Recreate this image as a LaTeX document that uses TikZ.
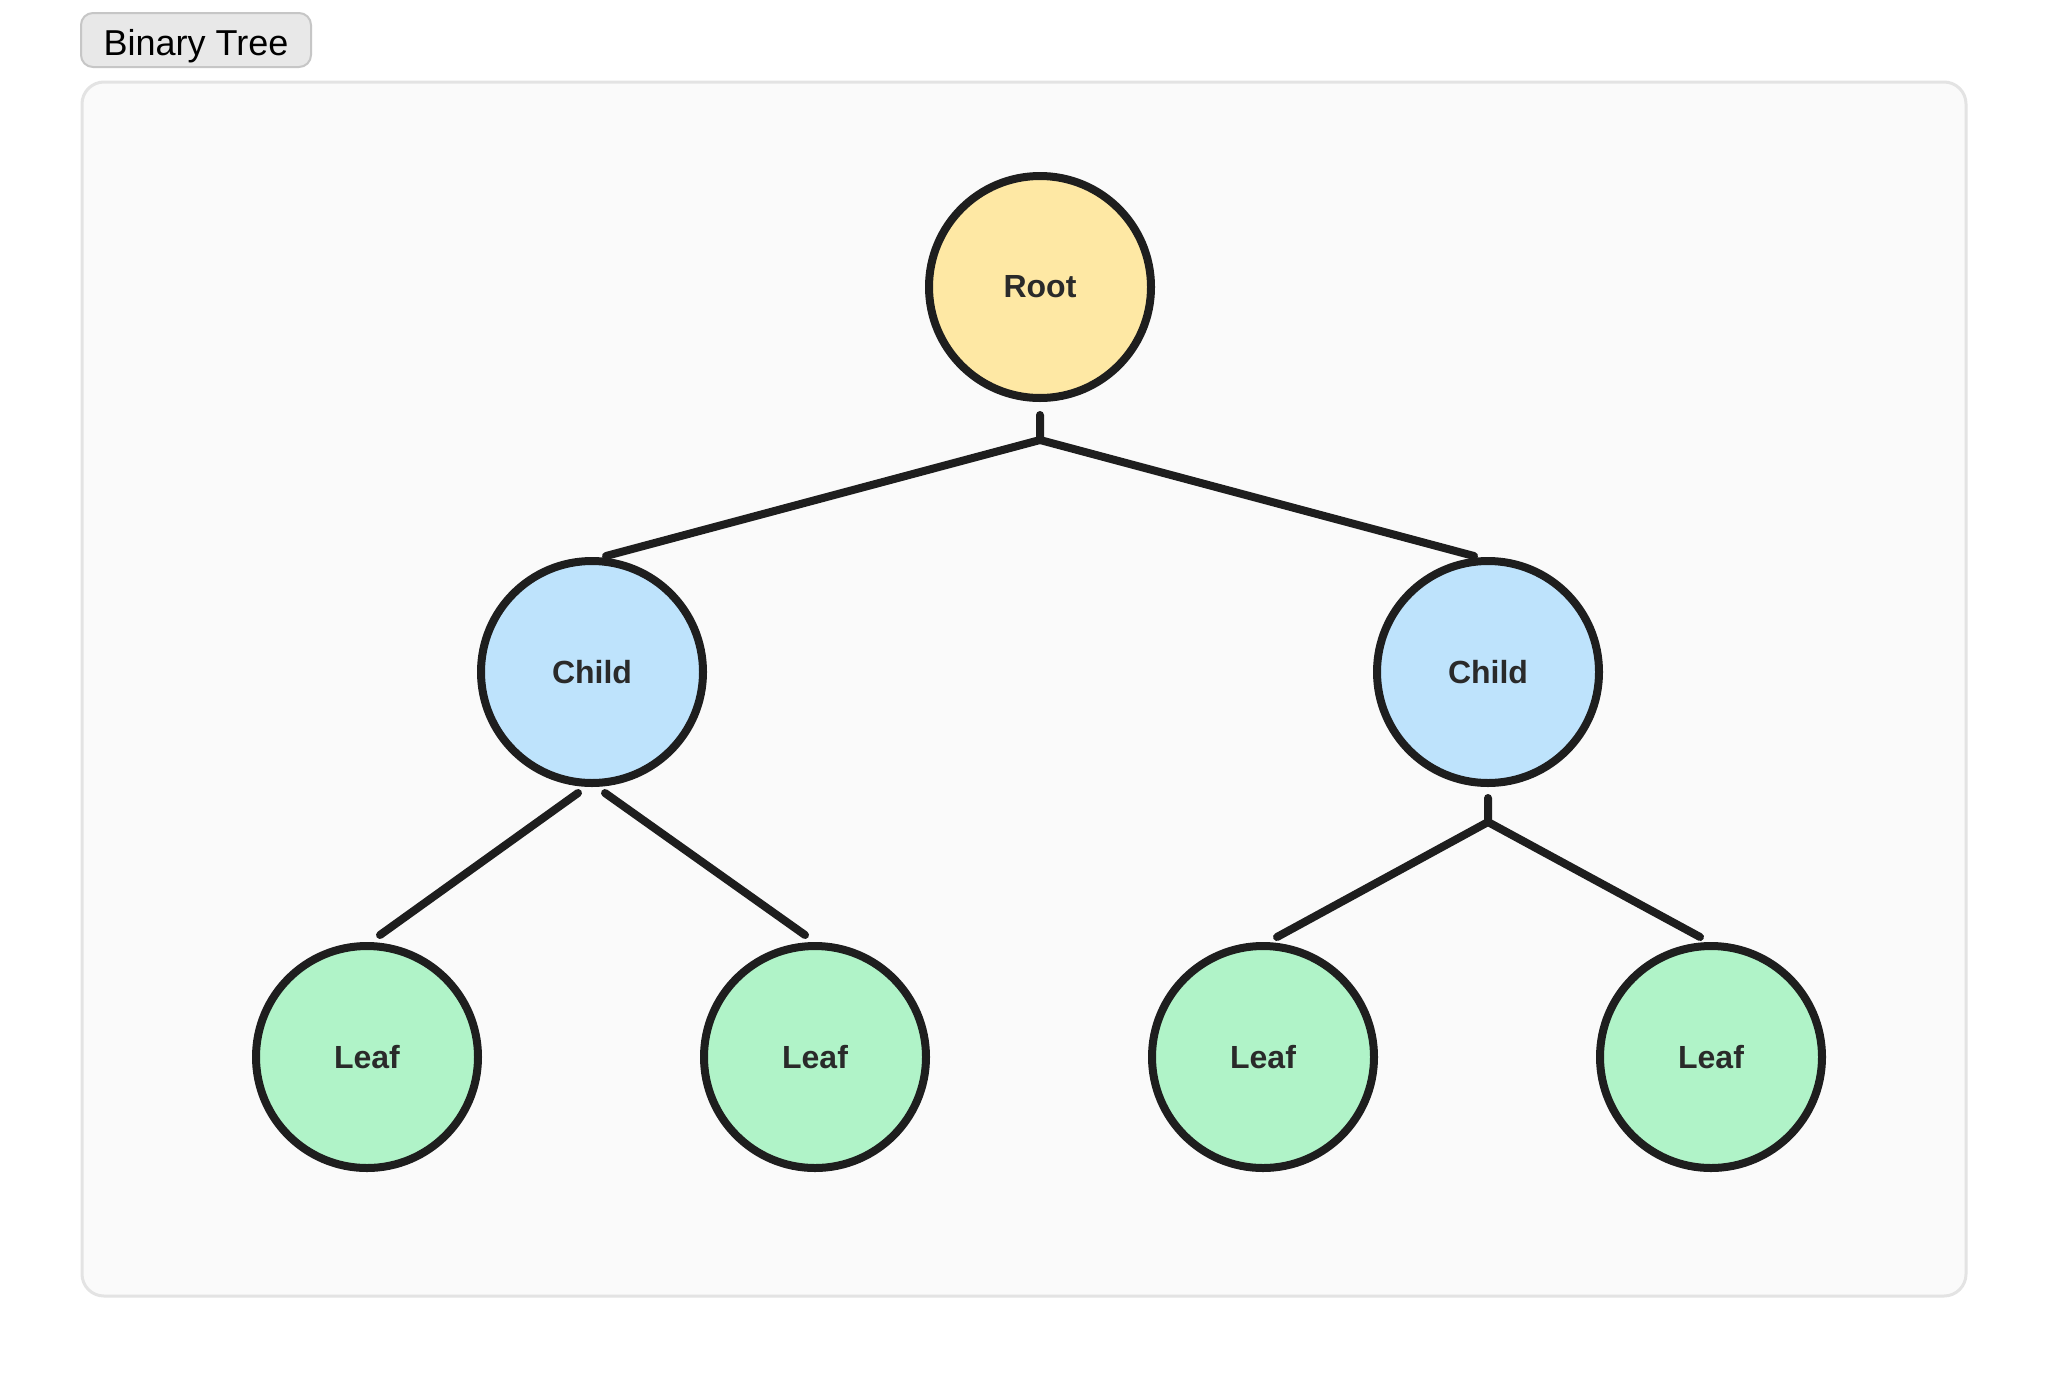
\documentclass[tikz,border=0pt]{standalone}
\usepackage{fontspec}
\setmainfont{Liberation Sans}
\usetikzlibrary{calc}
\definecolor{framefill}{HTML}{FAFAFA}
\definecolor{framedraw}{HTML}{E3E3E3}
\definecolor{titlefill}{HTML}{E8E8E8}
\definecolor{titledraw}{HTML}{C6C6C6}
\definecolor{inkc}{HTML}{1E1E1E}
\definecolor{rootfill}{HTML}{FEE8A4}
\definecolor{childfill}{HTML}{BEE3FC}
\definecolor{leaffill}{HTML}{B0F3C8}
\definecolor{labeltext}{HTML}{2A2A2A}
\tikzset{
  treenode/.style={circle, draw=inkc, line width=4pt, minimum size=111pt, inner sep=0pt,
    font=\fontsize{16}{19}\selectfont\bfseries, text=labeltext},
  rootnode/.style={treenode, fill=rootfill},
  childnode/.style={treenode, fill=childfill},
  leafnode/.style={treenode, fill=leaffill},
  edge/.style={draw=inkc, line width=4pt, line cap=round, line join=round},
}
\begin{document}
\begin{tikzpicture}[x=0.5pt, y=-0.5pt]
\useasboundingbox[fill=white] (0,0) rectangle (2048,1376);
\node[draw=framedraw, fill=framefill, line width=1.5pt, rounded corners=11pt,
  minimum width=942pt, minimum height=607pt, inner sep=0pt] (frame) at (1024,689) {};
\node[draw=titledraw, fill=titlefill, line width=1pt, rounded corners=6pt,
  minimum width=115pt, minimum height=27pt, inner sep=0pt] (title) at (196,40) {};
\node[anchor=base, inner sep=0pt, font=\fontsize{18}{21}\selectfont, text=black]
  (titletext) at (196,55) {Binary Tree};

\node[rootnode] (root) at (1040,287) {Root};
\node[childnode] (c1) at (592,672) {Child};
\node[childnode] (c2) at (1488,672) {Child};
\node[leafnode] (l1) at (367,1057) {Leaf};
\node[leafnode] (l2) at (815,1057) {Leaf};
\node[leafnode] (l3) at (1263,1057) {Leaf};
\node[leafnode] (l4) at (1711,1057) {Leaf};

% root to children
\coordinate (rs) at ($(root.center)+(0,128)$);
\coordinate (rj) at ($(root.center)+(0,153)$);
\draw[edge] (rs) -- (rj) -- ($(c1.center)+(14,-116)$);
\draw[edge] (rj) -- ($(c2.center)+(-14,-116)$);

% left child to leaves
\draw[edge] ($(c1.center)+(-14,121)$) -- ($(l1.center)+(13,-122)$);
\draw[edge] ($(c1.center)+(13,121)$) -- ($(l2.center)+(-10,-122)$);

% right child to leaves
\coordinate (cs) at ($(c2.center)+(0,126)$);
\coordinate (cj) at ($(c2.center)+(0,150)$);
\draw[edge] (cs) -- (cj) -- ($(l3.center)+(14,-120)$);
\draw[edge] (cj) -- ($(l4.center)+(-11,-120)$);
\end{tikzpicture}
\end{document}
